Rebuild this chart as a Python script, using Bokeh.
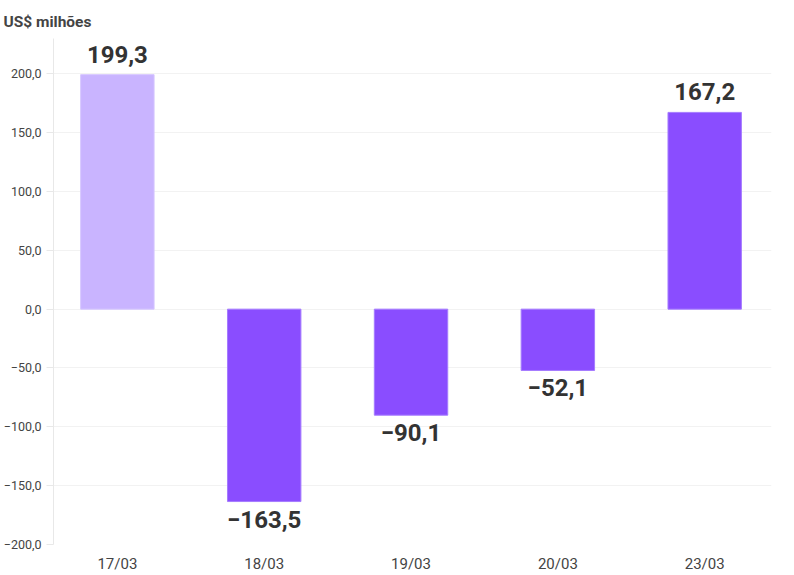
from bokeh.plotting import figure
from bokeh.models import ColumnDataSource, FixedTicker, Range1d
from bokeh.core.properties import value
from bokeh.embed import file_html
from bokeh.resources import INLINE

dates = ["17/03", "18/03", "19/03", "20/03", "23/03"]
values = [199.3, -163.5, -90.1, -52.1, 167.2]
colors = ["#c9b4ff", "#8a4dff", "#8a4dff", "#8a4dff", "#8a4dff"]
line_colors = ["#d6c6ff", "#a57bff", "#a57bff", "#a57bff", "#a57bff"]
y_ticks = [-200, -150, -100, -50, 0, 50, 100, 150, 200]
unit_title = "US$ milhões"


def fmt(v):
    s = f"{abs(v):.1f}".replace(".", ",")
    return ("\u2212" + s) if v < 0 else s


xs = list(range(len(dates)))
src = ColumnDataSource(dict(x=xs, top=values, color=colors, lc=line_colors,
                            label=[fmt(v) for v in values]))
pos = ColumnDataSource(dict(x=[x for x, v in zip(xs, values) if v >= 0],
                            y=[v for v in values if v >= 0],
                            label=[fmt(v) for v in values if v >= 0]))
neg = ColumnDataSource(dict(x=[x for x, v in zip(xs, values) if v < 0],
                            y=[v for v in values if v < 0],
                            label=[fmt(v) for v in values if v < 0]))

p = figure(width=786, height=575, output_backend="svg", toolbar_location=None,
           x_range=Range1d(-0.435, len(dates) - 1 + 0.455), y_range=Range1d(-200, 230),
           min_border_left=50, min_border_right=15, min_border_top=38, min_border_bottom=31)
p.outline_line_color = None
p.background_fill_color = "white"

p.title.text = unit_title
p.title.text_font = "Roboto"
p.title.text_font_size = "15.5px"
p.title.text_font_style = "bold"
p.title.text_color = "#444444"
p.title.align = "left"
p.title.offset = -50
p.title.standoff = 16

p.vbar(x="x", top="top", bottom=0, width=0.5, source=src,
       fill_color="color", line_color="lc", line_width=1)

p.text(x="x", y="y", text="label", source=pos, text_align="center",
       text_baseline="bottom", y_offset=-12, text_font=value("Roboto"),
       text_font_size="24px", text_font_style="bold", text_color="#333333")
p.text(x="x", y="y", text="label", source=neg, text_align="center",
       text_baseline="top", y_offset=9, text_font=value("Roboto"),
       text_font_size="24px", text_font_style="bold", text_color="#333333")

# y axis
p.yaxis.ticker = FixedTicker(ticks=y_ticks)
p.yaxis.major_label_overrides = {t: fmt(t) for t in y_ticks}
p.yaxis.axis_line_color = "#e8e8e8"
p.yaxis.major_tick_line_color = "#e8e8e8"
p.yaxis.major_tick_out = 7
p.yaxis.major_tick_in = 0
p.yaxis.minor_tick_line_color = None
p.yaxis.major_label_standoff = 5
p.yaxis.major_label_text_font = "Roboto"
p.yaxis.major_label_text_font_size = "12.5px"
p.yaxis.major_label_text_color = "#444444"

# x axis
p.xaxis.ticker = FixedTicker(ticks=xs)
p.xaxis.major_label_overrides = {x: d for x, d in zip(xs, dates)}
p.xaxis.axis_line_color = None
p.xaxis.major_tick_line_color = None
p.xaxis.minor_tick_line_color = None
p.xaxis.major_tick_out = 0
p.xaxis.major_label_standoff = 10
p.xaxis.major_label_text_font = "Roboto"
p.xaxis.major_label_text_font_size = "15px"
p.xaxis.major_label_text_color = "#444444"

p.xgrid.grid_line_color = None
p.ygrid.grid_line_color = "#f2f2f2"
p.ygrid.grid_line_width = 1

open("out.html", "w").write(file_html(p, INLINE))
